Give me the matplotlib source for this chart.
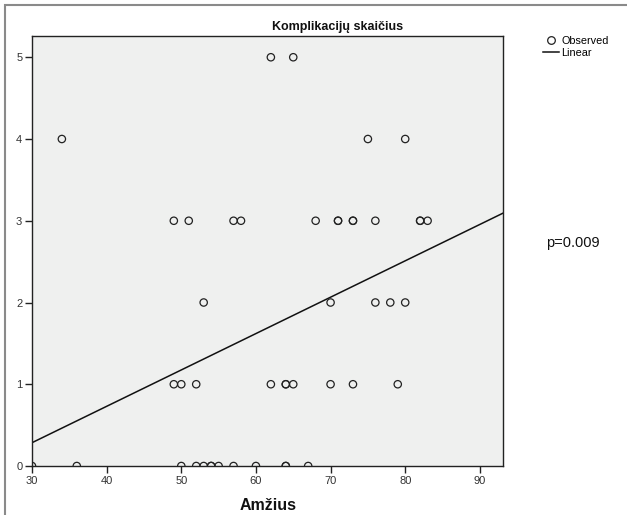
import matplotlib
matplotlib.use("Agg")
import matplotlib.pyplot as plt
import numpy as np
from matplotlib.patches import Rectangle
from matplotlib.lines import Line2D

plt.rcParams['font.family'] = ['Liberation Sans', 'DejaVu Sans']

# Observed data: age (Amžius) and number of complications
age_0 = [30, 36, 50, 52, 53, 54, 54, 55, 57, 60, 64, 64, 67]
age_1 = [49, 50, 52, 62, 64, 64, 65, 70, 73, 79]
age_2 = [53, 70, 76, 78, 80]
age_3 = [49, 51, 57, 58, 68, 71, 71, 73, 73, 76, 82, 82, 83]
age_4 = [34, 75, 80]
age_5 = [62, 65]
groups = [age_0, age_1, age_2, age_3, age_4, age_5]
ages = [a for g in groups for a in g]
counts = [k for k, g in enumerate(groups) for _ in g]

# Linear fit
fit_intercept = -1.05
fit_slope = 0.0445

title = "Komplikacijų skaičius"
xlabel = "Amžius"
p_text = "p=0.009"
x_ticks = [30, 40, 50, 60, 70, 80, 90]
y_ticks = [0, 1, 2, 3, 4, 5]

W, H = 627, 515
fig = plt.figure(figsize=(W / 100, H / 100), dpi=100)
fig.patch.set_facecolor('white')

# outer frame
fig.add_artist(Rectangle((5 / W, -0.05), 1.2, (H - 5) / H + 0.05,
                         transform=fig.transFigure, fill=False,
                         edgecolor='#8a8a8a', linewidth=1.5))

ax = fig.add_axes([32 / W, 49 / H, (503 - 32) / W, (466 - 36) / H])
ax.set_facecolor('#eff0ef')
ax.set_xlim(30, 93.1)
ax.set_ylim(0, 5.26)

xs = np.array([30, 93.1])
ax.plot(xs, fit_intercept + fit_slope * xs, color='#111111', lw=1.1, zorder=2)
ax.scatter(ages, counts, s=28, facecolors='none', edgecolors='#222222',
           linewidths=0.9, zorder=3)

for s in ax.spines.values():
    s.set_color('#222222')
    s.set_linewidth(1.0)
ax.set_xticks(x_ticks)
ax.set_yticks(y_ticks)
ax.tick_params(axis='both', direction='out', length=5, width=1,
               color='#222222', labelsize=8, labelcolor='#333333', pad=2)

fig.text(268 / W, 1 - 505 / H, xlabel, ha='center', va='center',
         fontsize=11.5, fontweight='bold', color='#111111')
fig.text(338 / W, 1 - 27 / H, title, ha='center', va='center',
         fontsize=9, fontweight='bold', color='#111111')
fig.text(546 / W, 1 - 243 / H, p_text, ha='left', va='center',
         fontsize=10.5, color='#111111')

# legend
handles = [Line2D([], [], marker='o', ls='none', mfc='none', mec='#222222',
                  ms=5.5, mew=0.9, label='Observed'),
           Line2D([], [], color='#111111', lw=1.1, label='Linear')]
fig.legend(handles=handles, loc='upper left', bbox_to_anchor=(543 / W, 1 - 36 / H),
           frameon=False, fontsize=7.8, handlelength=1.5, handletextpad=0.2,
           labelspacing=0.15, borderpad=0, borderaxespad=0)

fig.savefig('out.png', dpi=100)
